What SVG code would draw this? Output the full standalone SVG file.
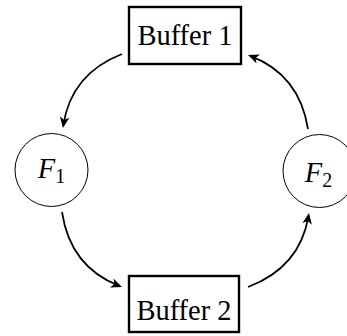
<svg xmlns="http://www.w3.org/2000/svg" width="347" height="336" viewBox="0 0 347 336">
<style>
.box{fill:#fff;stroke:#000;stroke-width:2.4}
.circ{fill:#fff;stroke:#000;stroke-width:1}
.lbl{font-family:"Liberation Serif","DejaVu Serif",serif;font-size:28.5px;fill:#000;text-anchor:middle}
.it{font-style:italic}
.sub{font-size:20px;font-style:normal}
.edge{fill:none;stroke:#000;stroke-width:1.7}
</style>
<defs>
<marker id="arr" markerUnits="userSpaceOnUse" markerWidth="16" markerHeight="12" viewBox="-10 -6 16 12" refX="0" refY="0" orient="auto" overflow="visible">
<path d="M3,0 L-8,-4.8 L-5,0 L-8,4.8 Z" fill="#000"/>
</marker>
</defs>
<g id="connectors">
<path class="edge" marker-end="url(#arr)" d="M122,54 C87.5,67.5 68.5,91.4 63.4,125"/>
<path class="edge" marker-end="url(#arr)" d="M62,212 C67.6,249.2 87,273.4 119.2,285.9"/>
<path class="edge" marker-end="url(#arr)" d="M248,287 C283.1,273.8 302.8,250 308.5,216"/>
<path class="edge" marker-end="url(#arr)" d="M308,129 C302.1,92.1 282.9,68.4 250.8,56.1"/>
</g>
<g id="buffer1">
<rect class="box" x="129" y="7" width="112" height="57"/>
<text class="lbl" x="185" y="45">Buffer 1</text>
</g>
<g id="buffer2">
<rect class="box" x="129" y="276" width="110" height="56"/>
<text class="lbl" x="184" y="320">Buffer 2</text>
</g>
<g id="f1">
<circle class="circ" cx="51.5" cy="170" r="36.5"/>
<text class="lbl" x="51.5" y="178"><tspan class="it">F</tspan><tspan class="sub" dy="5">1</tspan></text>
</g>
<g id="f2">
<circle class="circ" cx="319.5" cy="171" r="36.5"/>
<text class="lbl" x="318.5" y="182"><tspan class="it">F</tspan><tspan class="sub" dy="5">2</tspan></text>
</g>
</svg>
